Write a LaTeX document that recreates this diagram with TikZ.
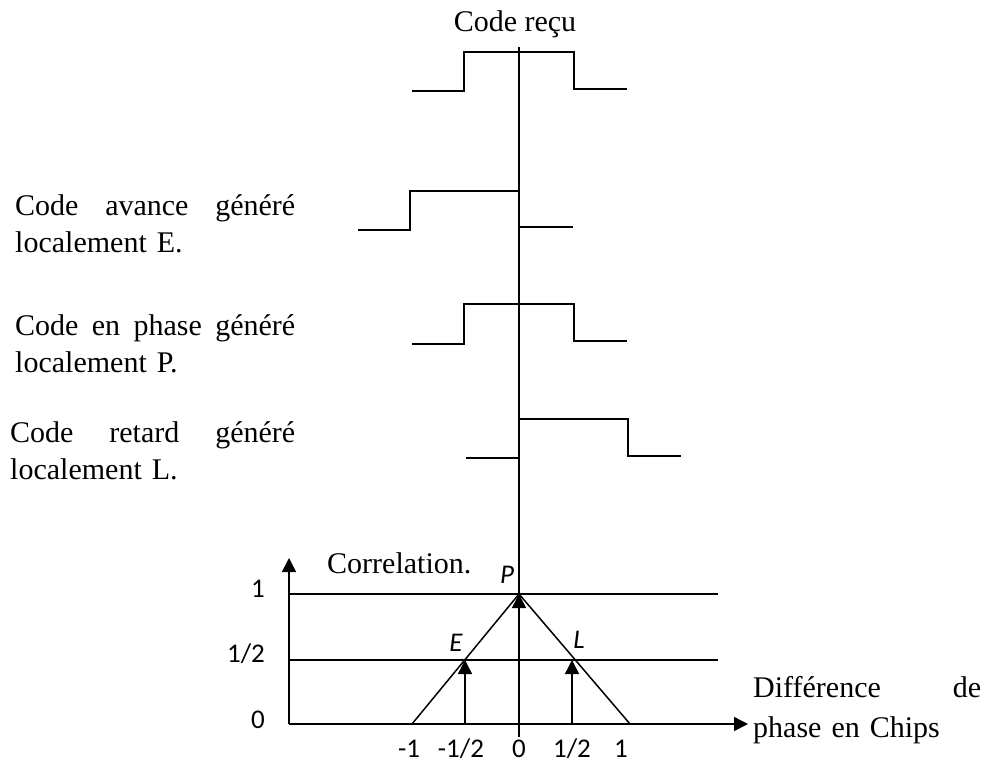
\documentclass[tikz,border=0pt]{standalone}
\usepackage{fontspec}
\setmainfont{Liberation Serif}
\newfontfamily\numfont{Carlito}
\usetikzlibrary{arrows.meta}
\begin{document}
\begin{tikzpicture}[x=1pt,y=-1pt,
  wave/.style={line width=1.5pt, line join=miter},
  axis/.style={line width=1.5pt},
  tip/.style={-{Triangle[width=14pt,length=14pt]}},
  lbl/.style={font=\fontsize{30}{37}\selectfont, inner sep=0pt},
  num/.style={font=\numfont\fontsize{27}{32}\selectfont, inner sep=0pt, anchor=base},
  pt/.style={font=\numfont\itshape\fontsize{27}{32}\selectfont, inner sep=0pt, anchor=base},
  block/.style={lbl, anchor=base west, text width=280pt, align=left}]
\useasboundingbox (0,0) rectangle (987,762);

% common time reference
\coordinate (top) at (519,47);
\coordinate (bot) at (519,737);
\draw[line width=2.2pt] (top) -- (bot);

% received code
\node[lbl, anchor=base] (recu) at (515,32) {Code reçu};
\draw[wave] (412,91) -- (464,91) -- (464,52) -- (574,52) -- (574,89) -- (627,89);

% early replica
\node[block] (early) at (15,215) {Code\hfill avance\hfill généré\\localement E.};
\draw[wave] (358,230) -- (410,230) -- (410,191) -- (519,191) -- (519,227) -- (573,227);

% prompt replica
\node[block] (prompt) at (15,335) {Code\hfill en\hfill phase\hfill généré\\localement P.};
\draw[wave] (412,344) -- (464,344) -- (464,304) -- (574,304) -- (574,341) -- (627,341);

% late replica
\node[block, text width=285pt] (late) at (10,442) {Code\hfill retard\hfill généré\\localement L.};
\draw[wave] (466,458) -- (519,458) -- (519,419) -- (628,419) -- (628,456) -- (681,456);

% correlation axes
\coordinate (O) at (289,724);
\coordinate (ytop) at (289,558);
\coordinate (xend) at (748,724);
\coordinate (one) at (289,594);
\coordinate (oneend) at (718,594);
\coordinate (half) at (289,660);
\coordinate (halfend) at (718,660);
\draw[axis, tip] (O) -- (ytop);
\draw[axis, tip] (O) -- (xend);
\draw[axis] (one) -- (oneend);
\draw[axis] (half) -- (halfend);

% correlation triangle and sampling points
\coordinate (m1) at (412,724);
\coordinate (p1) at (630,724);
\coordinate (apex) at (519,594);
\coordinate (Ept) at (465,660);
\coordinate (Lpt) at (572,660);
\coordinate (Ebase) at (465,724);
\coordinate (Lbase) at (572,724);
\coordinate (Pbase) at (519,724);
\draw[axis, line join=miter] (m1) -- (apex) -- (p1);
\draw[axis, tip] (Ebase) -- (Ept);
\draw[axis, tip] (Lbase) -- (Lpt);
\draw[axis, tip] (Pbase) -- (apex);

\node[lbl, anchor=base west] (corr) at (327,573) {Correlation.};
\node[pt] (lP) at (507,583) {P};
\node[pt] (lE) at (456,651) {E};
\node[pt] (lL) at (579,648) {L};

% y labels
\node[num] (y1) at (258,597) {1};
\node[num] (yh) at (246,662) {1/2};
\node[num] (y0) at (258,728) {0};

% x labels
\node[num] (xm1) at (409,757) {-1};
\node[num] (xmh) at (461,757) {-1/2};
\node[num] (x0) at (519,757) {0};
\node[num] (xh) at (572,757) {1/2};
\node[num] (x1) at (621,757) {1};

\node[lbl, anchor=base west, text width=228pt, align=left,
      font=\fontsize{30}{40}\selectfont] (diff) at (753,697)
      {Différence\hfill de\\phase en Chips};
\end{tikzpicture}
\end{document}
